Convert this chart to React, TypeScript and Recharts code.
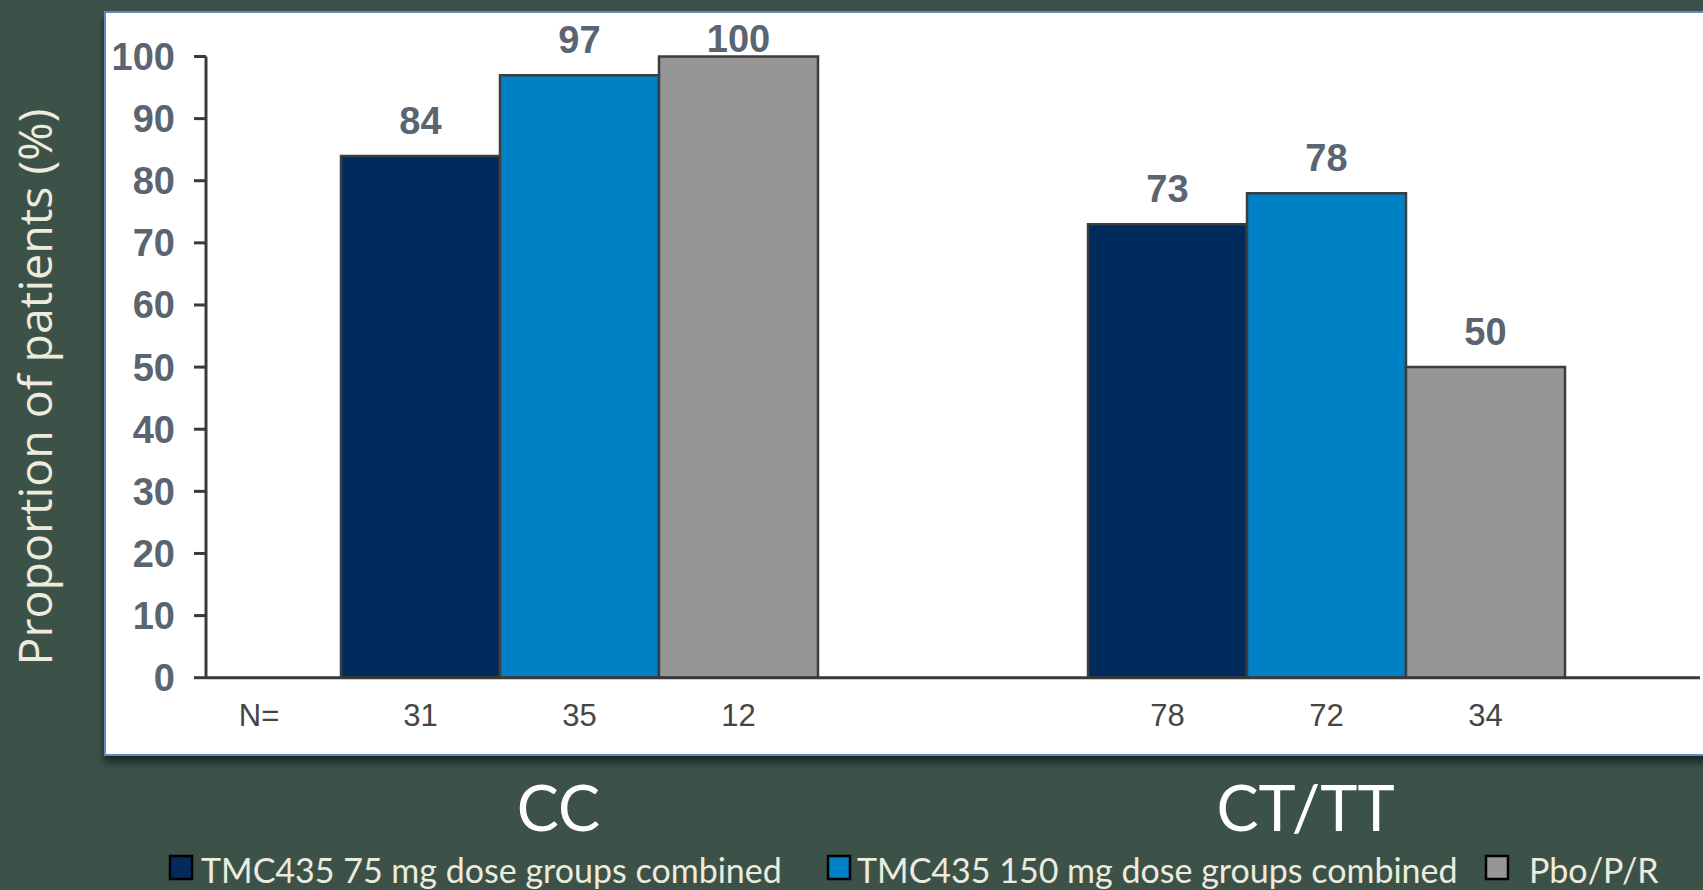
import { BarChart, Bar, XAxis, YAxis, LabelList } from 'recharts';

// response rate (%) by IL28B genotype
const genotypes = ['CC', 'CT/TT'];
const dose75 = [84, 73];
const dose150 = [97, 78];
const placebo = [100, 50];

// patients per group
const n75 = [31, 78];
const n150 = [35, 72];
const nPlacebo = [12, 34];

const yTicks = [0, 10, 20, 30, 40, 50, 60, 70, 80, 90, 100];

const seriesNames = [
  'TMC435 75 mg dose groups combined',
  'TMC435 150 mg dose groups combined',
  'Pbo/P/R',
];
const seriesColors = ['#002b5c', '#0080c5', '#969696'];

const data = genotypes.map((genotype, i) => ({
  genotype,
  d75: dose75[i],
  d150: dose150[i],
  pbo: placebo[i],
  n75: n75[i],
  n150: n150[i],
  nPbo: nPlacebo[i],
}));

const BG = '#3c5248';
const CREAM = '#ecebdd';
const ARIAL = "'Liberation Sans', Arial, sans-serif";
const CALIBRI = "Lato, 'Open Sans', sans-serif";

const ValueLabel = (props: any) => {
  const { x, y, width, value } = props;
  // keep the label inside the frame for the tallest bars
  const baseline = Math.max(y - 22, 52);
  return (
    <text
      x={x + width / 2}
      y={baseline}
      textAnchor="middle"
      fontFamily={ARIAL}
      fontWeight="bold"
      fontSize={38}
      fill="#5b6572"
    >
      {value}
    </text>
  );
};

const CountLabel = (props: any) => {
  const { x, y, width, height, value } = props;
  return (
    <text
      x={x + width / 2}
      y={y + height + 48}
      textAnchor="middle"
      fontFamily={ARIAL}
      fontSize={31}
      fill="#454545"
    >
      {value}
    </text>
  );
};

const GroupTick = (props: any) => {
  const { x, y, payload } = props;
  return (
    <text
      x={x - 21}
      y={y + 153}
      textAnchor="middle"
      fontFamily={CALIBRI}
      fontSize={63}
      fill="#ffffff"
    >
      {payload.value}
    </text>
  );
};

const LegendRow = () => {
  const squareX = [170, 828, 1486];
  const textX = [201, 857, 1529];
  return (
    <svg
      width={1703}
      height={40}
      style={{ position: 'absolute', left: 0, top: 850 }}
    >
      {seriesNames.map((name, i) => (
        <g key={name}>
          <rect
            x={squareX[i]}
            y={6}
            width={22}
            height={23}
            fill={seriesColors[i]}
            stroke="#000"
            strokeWidth={2.5}
          />
          <text
            x={textX[i]}
            y={33}
            fontFamily={CALIBRI}
            fontSize={34}
            fill={CREAM}
          >
            {name}
          </text>
        </g>
      ))}
    </svg>
  );
};

export default function App() {
  return (
    <div
      style={{
        position: 'absolute',
        left: 0,
        top: 0,
        width: 1703,
        height: 890,
        overflow: 'hidden',
        background: BG,
      }}
    >
      <div
        style={{
          position: 'absolute',
          left: 104,
          top: 11,
          width: 1700,
          height: 741,
          background: '#ffffff',
          border: '2px solid #5b8bc8',
          boxShadow: '0 6px 8px rgba(0,0,0,0.55)',
        }}
      />
      <div style={{ position: 'absolute', left: 0, top: 0 }}>
        <BarChart
          width={1703}
          height={890}
          data={data}
          margin={{ top: 56.5, right: 3, bottom: 182.3, left: 106 }}
          barGap={0}
          barSize={159}
        >
          <YAxis
            width={100}
            domain={[0, 100]}
            ticks={yTicks}
            interval={0}
            axisLine={{ stroke: '#3a3a3a', strokeWidth: 3 }}
            tickLine={{ stroke: '#3a3a3a', strokeWidth: 3 }}
            tickSize={12}
            tickMargin={19}
            tick={{ fontFamily: ARIAL, fontWeight: 'bold', fontSize: 38, fill: '#5b6572' }}
            label={{
              content: () => (
                <text
                  x={34}
                  y={387}
                  transform="rotate(-90, 34, 387)"
                  textAnchor="middle"
                  dominantBaseline="central"
                  fontFamily="'Open Sans', sans-serif"
                  fontSize={46.5}
                  fill={CREAM}
                >
                  Proportion of patients (%)
                </text>
              ),
            }}
          />
          <XAxis
            dataKey="genotype"
            height={30}
            axisLine={{ stroke: '#3a3a3a', strokeWidth: 3 }}
            tickLine={false}
            tickSize={0}
            tickMargin={0}
            tick={<GroupTick />}
            label={{
              content: (p: any) => (
                <text
                  x={p.viewBox.x + 53}
                  y={p.viewBox.y + 48}
                  textAnchor="middle"
                  fontFamily={ARIAL}
                  fontSize={31}
                  fill="#454545"
                >
                  N=
                </text>
              ),
            }}
          />
          <Bar dataKey="d75" name={seriesNames[0]} fill={seriesColors[0]} stroke="#3d3d3d" strokeWidth={2.5} isAnimationActive={false}>
            <LabelList dataKey="d75" content={<ValueLabel />} />
            <LabelList dataKey="n75" content={<CountLabel />} />
          </Bar>
          <Bar dataKey="d150" name={seriesNames[1]} fill={seriesColors[1]} stroke="#3d3d3d" strokeWidth={2.5} isAnimationActive={false}>
            <LabelList dataKey="d150" content={<ValueLabel />} />
            <LabelList dataKey="n150" content={<CountLabel />} />
          </Bar>
          <Bar dataKey="pbo" name={seriesNames[2]} fill={seriesColors[2]} stroke="#3d3d3d" strokeWidth={2.5} isAnimationActive={false}>
            <LabelList dataKey="pbo" content={<ValueLabel />} />
            <LabelList dataKey="nPbo" content={<CountLabel />} />
          </Bar>
        </BarChart>
      </div>
      <LegendRow />
    </div>
  );
}
